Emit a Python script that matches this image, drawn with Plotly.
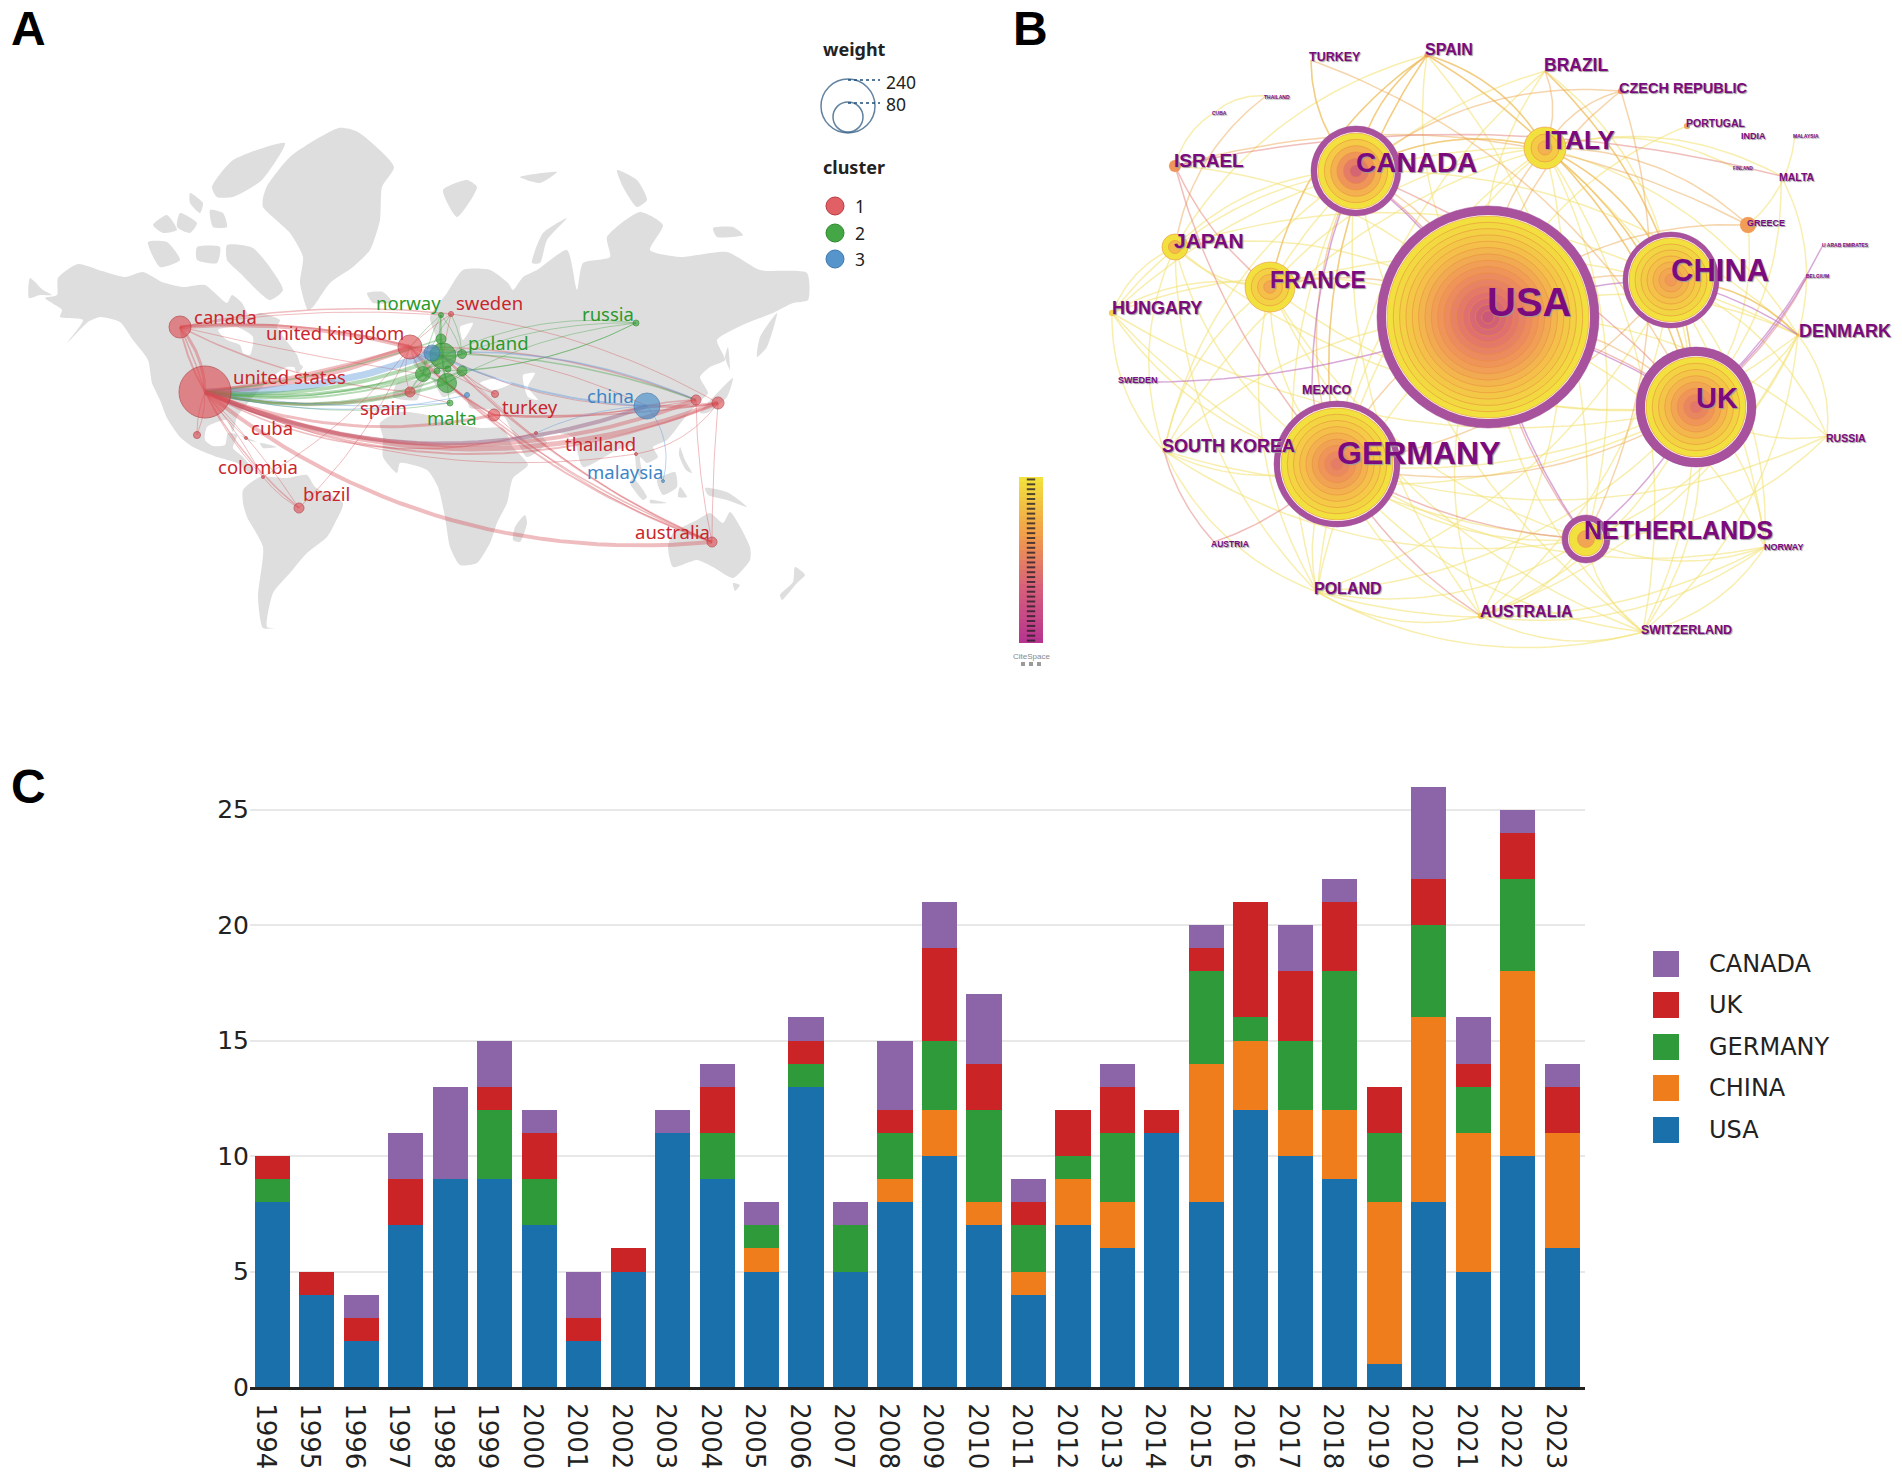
"""
Three panel figure: collaboration map (A), country network (B) and
yearly stacked publications of the top five countries (C).
"""

import numpy as np
import plotly.graph_objects as go

W = 1902
H = 1478

# ---------------- Panel C data ----------------
YEARS = [str(y) for y in range(1994, 2024)]
USA = [8, 4, 2, 7, 9, 9, 7, 2, 5, 11, 9, 5, 13, 5, 8, 10, 7, 4, 7, 6, 11, 8, 12, 10, 9, 1, 8, 5, 10, 6]
CHINA = [0, 0, 0, 0, 0, 0, 0, 0, 0, 0, 0, 1, 0, 0, 1, 2, 1, 1, 2, 2, 0, 6, 3, 2, 3, 7, 8, 6, 8, 5]
GERMANY = [1, 0, 0, 0, 0, 3, 2, 0, 0, 0, 2, 1, 1, 2, 2, 3, 4, 2, 1, 3, 0, 4, 1, 3, 6, 3, 4, 2, 4, 0]
UK = [1, 1, 1, 2, 0, 1, 2, 1, 1, 0, 2, 0, 1, 0, 1, 4, 2, 1, 2, 2, 1, 1, 5, 3, 3, 2, 2, 1, 2, 2]
CANADA = [0, 0, 1, 2, 4, 2, 1, 2, 0, 1, 1, 1, 1, 1, 3, 2, 3, 1, 0, 1, 0, 1, 0, 2, 1, 0, 4, 2, 1, 1]

SERIES_NAMES = ["USA", "CHINA", "GERMANY", "UK", "CANADA"]
SERIES_VALUES = [USA, CHINA, GERMANY, UK, CANADA]
SERIES_COLORS = ["#1a70aa", "#f07d1c", "#2f9a3a", "#cb2427", "#8c64a8"]
Y_TICKS = [0, 5, 10, 15, 20, 25]

# ---------------- Panel A data (picture pixels) ----------------
LAND = [
    # north america
    [(58, 278), (78, 264), (102, 271), (125, 277), (143, 272), (162, 282), (183, 287), (205, 285),
     (217, 295), (227, 303), (232, 295), (242, 303), (250, 317), (260, 313), (280, 320), (277, 327),
     (297, 355), (300, 367), (287, 367), (272, 377), (253, 397), (237, 417), (233, 432), (227, 420),
     (207, 427), (205, 440), (213, 446), (225, 445), (228, 433), (237, 435), (233, 448), (243, 457),
     (253, 470), (250, 473), (237, 463), (217, 457), (193, 447), (180, 437), (167, 418), (160, 400),
     (152, 383), (148, 360), (133, 340), (120, 322), (100, 317), (88, 322), (67, 343), (83, 320),
     (60, 317), (62, 310), (45, 298), (57, 295)],
    [(30, 278), (43, 290), (52, 295), (40, 295), (29, 298)],
    [(293, 360), (303, 367), (297, 373)],
    [(240, 435), (257, 442), (247, 440)],
    [(260, 443), (277, 447), (263, 448)],
    [(367, 293), (383, 292), (392, 302), (373, 303)],
    # arctic islands
    [(148, 242), (167, 242), (180, 260), (160, 267)],
    [(197, 247), (220, 247), (217, 263), (197, 260)],
    [(227, 245), (253, 248), (283, 290), (270, 300), (240, 273), (227, 260)],
    [(153, 225), (167, 215), (177, 230), (163, 233)],
    [(190, 193), (203, 203), (200, 213), (190, 203)],
    [(180, 213), (197, 223), (190, 233), (177, 227)],
    [(210, 210), (223, 213), (227, 227), (213, 227)],
    [(212, 187), (233, 160), (285, 143), (262, 180), (233, 197), (217, 197)],
    # greenland
    [(267, 186), (291, 156), (339, 128), (358, 132), (394, 167), (382, 187), (380, 220), (370, 250),
     (353, 267), (330, 283), (313, 307), (308, 310), (300, 283), (303, 257), (290, 233), (263, 207),
     (263, 198)],
    # south america
    [(243, 490), (260, 477), (287, 478), (307, 475), (315, 487), (343, 503), (335, 523), (327, 537),
     (307, 553), (290, 573), (273, 593), (267, 627), (275, 628), (263, 628), (258, 597), (263, 547),
     (247, 517), (243, 503)],
    # africa
    [(380, 423), (400, 412), (427, 415), (447, 422), (480, 428), (503, 428), (513, 447), (528, 465),
     (513, 478), (507, 503), (497, 523), (490, 543), (477, 563), (460, 565), (450, 547), (445, 517),
     (438, 487), (427, 470), (400, 463), (397, 473), (383, 457), (383, 437)],
    [(525, 515), (527, 523), (520, 542), (513, 540), (515, 527)],
    # eurasia
    [(397, 383), (425, 378), (413, 363), (427, 348), (437, 343), (430, 317), (447, 293), (463, 270),
     (490, 270), (508, 283), (513, 290), (523, 277), (537, 270), (567, 250), (577, 290), (583, 263),
     (610, 257), (607, 237), (640, 212), (663, 225), (650, 250), (680, 257), (727, 252), (760, 270),
     (807, 273), (808, 300), (793, 303), (773, 313), (747, 323), (717, 340), (725, 360), (710, 367),
     (700, 377), (708, 393), (698, 403), (683, 420), (667, 440), (653, 447), (658, 457), (647, 463),
     (640, 457), (643, 480), (637, 473), (633, 447), (617, 450), (583, 467), (573, 437), (557, 433),
     (543, 437), (547, 443), (527, 457), (513, 433), (503, 415), (493, 410), (470, 408), (467, 400),
     (455, 393), (443, 397), (430, 377), (422, 387), (417, 400), (393, 397)],
    [(443, 190), (467, 180), (477, 187), (457, 217)],
    [(532, 263), (543, 233), (567, 218), (547, 240), (540, 263)],
    [(617, 170), (637, 180), (647, 200), (637, 207), (623, 187)],
    [(520, 177), (557, 172), (540, 183)],
    [(713, 228), (733, 227), (743, 235), (717, 237)],
    [(757, 357), (760, 337), (777, 313), (767, 347)],
    [(727, 383), (733, 378), (727, 397), (707, 413), (700, 413)],
    [(728, 347), (730, 370), (725, 357)],
    # south east asia and oceania
    [(633, 478), (647, 497), (643, 500), (630, 483)],
    [(650, 500), (667, 503), (650, 503)],
    [(657, 480), (675, 472), (677, 487), (663, 495)],
    [(680, 447), (685, 460), (692, 473), (686, 470), (679, 455)],
    [(680, 487), (687, 497), (678, 497)],
    [(705, 488), (727, 492), (747, 507), (727, 500), (708, 495)],
    [(668, 547), (673, 533), (697, 520), (710, 513), (723, 523), (730, 512), (750, 547), (750, 560),
     (733, 578), (713, 567), (697, 560), (673, 567)],
    [(733, 583), (740, 585), (735, 591)],
    [(795, 567), (805, 575), (797, 583), (782, 600), (780, 595), (793, 582)],
]
WATER = [
    [(218, 330), (237, 327), (253, 337), (250, 355), (243, 353), (240, 345), (227, 340)],
    [(480, 383), (497, 378), (512, 383), (493, 390)],
    [(523, 375), (535, 373), (528, 387), (538, 400), (528, 397)],
    [(460, 327), (473, 323), (463, 340)],
]

A_NODES = {
    "us": (205, 392, 26, 1), "ca": (180, 327, 11, 1), "mx": (197, 435, 3.5, 1), "cu": (246, 438, 1.5, 1),
    "co": (263, 477, 1.5, 1), "br": (299, 508, 5, 1), "es": (410, 392, 5, 1), "gb": (410, 347, 12, 1),
    "de": (443, 356, 13, 2), "nl": (432, 353, 8, 3), "dk": (441, 339, 5, 2), "pl": (462, 354, 4.5, 2),
    "fr": (423, 374, 7.5, 2), "it": (447, 383, 9.5, 2), "at": (462, 371, 5, 2), "be": (437, 371, 3, 2),
    "ch": (448, 369, 3, 2), "no": (441, 315, 2.5, 2), "se": (451, 314, 2.5, 1), "ru": (636, 323, 3, 2),
    "gr": (467, 395, 2.5, 3), "il": (495, 394, 3.5, 1), "mt": (450, 403, 3, 2), "tr": (494, 415, 6, 1),
    "ir": (536, 433, 1.5, 1), "cn": (647, 406, 13, 3), "kr": (696, 400, 5, 1), "jp": (718, 403, 6, 1),
    "th": (636, 454, 1.5, 1), "my": (663, 481, 1.5, 3), "au": (712, 542, 5, 1),
}

RED_A = "rgba(214,80,88,0.38)"
GRN_A = "rgba(60,160,60,0.38)"
BLU_A = "rgba(90,150,215,0.42)"

# from, to, bend, width, colour
A_EDGES = [
    ("us", "ca", 0.18, 3, RED_A), ("us", "ca", -0.08, 2, RED_A), ("us", "ca", 0.04, 1.5, RED_A),
    ("us", "mx", 0.1, 1, RED_A), ("us", "mx", -0.1, 1, RED_A), ("us", "cu", 0.05, 1, RED_A),
    ("us", "co", 0.08, 1, RED_A), ("us", "co", -0.05, 1, RED_A), ("us", "br", 0.1, 1.5, RED_A),
    ("us", "br", -0.05, 1, RED_A), ("co", "br", 0.1, 1, RED_A), ("br", "gb", 0.1, 1, RED_A),
    ("co", "gb", 0.1, 1, RED_A), ("us", "gb", 0.08, 6, RED_A), ("us", "gb", 0.04, 3, RED_A),
    ("us", "nl", 0.1, 7, BLU_A), ("us", "de", 0.12, 4, GRN_A), ("us", "fr", 0.1, 3, GRN_A),
    ("us", "it", 0.14, 3, GRN_A), ("us", "pl", 0.15, 1.5, GRN_A), ("us", "at", 0.16, 2, GRN_A),
    ("us", "be", 0.13, 2, GRN_A), ("us", "dk", 0.06, 1.5, GRN_A), ("us", "es", 0.12, 3, RED_A),
    ("us", "mt", 0.1, 1, GRN_A), ("us", "mt", 0.06, 1, BLU_A), ("us", "gr", 0.12, 1, BLU_A),
    ("us", "tr", 0.15, 3, RED_A), ("us", "ir", 0.2, 1.5, RED_A), ("us", "cn", 0.2, 4, "rgba(150,90,130,0.45)"),
    ("us", "kr", 0.2, 4, RED_A), ("us", "jp", 0.2, 5, RED_A), ("us", "jp", 0.22, 2, RED_A),
    ("us", "th", 0.15, 1, RED_A), ("th", "jp", 0.2, 1, RED_A), ("us", "au", 0.2, 4, RED_A),
    ("ca", "gb", -0.08, 4, RED_A), ("ca", "de", -0.1, 2, RED_A), ("ca", "fr", 0.02, 1, RED_A),
    ("ca", "es", 0.1, 1.5, RED_A), ("ca", "se", -0.08, 1.5, RED_A), ("ca", "no", -0.06, 1, RED_A),
    ("se", "jp", -0.1, 1, RED_A), ("gb", "kr", -0.1, 1.5, RED_A), ("nl", "kr", -0.12, 1.5, BLU_A),
    ("pl", "kr", -0.08, 1.5, GRN_A), ("gb", "cn", -0.1, 1, RED_A), ("nl", "cn", 0.1, 2, BLU_A),
    ("de", "cn", 0.12, 1, RED_A), ("pl", "ru", -0.1, 1, GRN_A), ("de", "ru", -0.15, 1, GRN_A),
    ("it", "ru", -0.1, 1, GRN_A), ("at", "ru", 0.1, 1, GRN_A), ("be", "ru", 0.12, 1, GRN_A),
    ("gb", "au", 0.12, 2, RED_A), ("de", "au", 0.1, 2, RED_A), ("it", "au", 0.08, 1.5, RED_A),
    ("at", "au", 0.1, 1, RED_A), ("tr", "au", 0.1, 1, RED_A), ("it", "tr", 0.05, 2, RED_A),
    ("kr", "au", 0.05, 1, RED_A), ("jp", "au", 0.02, 1, RED_A), ("cn", "my", -0.25, 1, BLU_A),
    ("cn", "kr", -0.05, 1.5, RED_A), ("cn", "jp", 0.05, 3, RED_A), ("tr", "cn", 0.08, 1.5, RED_A),
    ("tr", "jp", 0.05, 1.5, RED_A), ("tr", "kr", 0.06, 1, RED_A), ("ir", "cn", -0.1, 1, BLU_A),
    ("no", "gb", 0.05, 1, GRN_A), ("no", "de", 0.03, 1, GRN_A), ("no", "dk", 0.1, 1, GRN_A),
    ("no", "pl", -0.1, 1, GRN_A), ("no", "it", 0.1, 1, GRN_A), ("no", "fr", 0.1, 1, GRN_A),
    ("se", "de", 0.03, 1, RED_A), ("se", "gb", 0.05, 1, RED_A), ("se", "pl", -0.1, 1, GRN_A),
    ("se", "fr", 0.1, 1, GRN_A), ("dk", "de", 0.1, 2, GRN_A), ("de", "pl", 0.1, 2, GRN_A),
    ("de", "fr", 0.1, 2, GRN_A), ("de", "it", 0.1, 2, GRN_A), ("fr", "es", 0.1, 1.5, GRN_A),
    ("fr", "it", 0.1, 2, GRN_A), ("es", "mt", 0.03, 1, RED_A), ("es", "de", 0.08, 1, RED_A),
    ("gb", "de", 0.1, 2, RED_A), ("gb", "it", 0.1, 1.5, RED_A), ("gb", "fr", 0.1, 1.5, RED_A),
    ("gb", "es", 0.2, 1, RED_A), ("it", "mt", 0.05, 1, GRN_A), ("it", "at", 0.1, 1, GRN_A),
    ("gb", "tr", 0.1, 1, RED_A), ("de", "il", 0.06, 1, RED_A), ("gb", "il", 0.08, 1, RED_A),
]

A_LABELS = ["canada", "united kingdom", "united states", "cuba", "colombia", "brazil", "spain", "norway",
            "sweden", "poland", "russia", "malta", "turkey", "china", "thailand", "malaysia", "australia"]
A_LABEL_X = [194, 266, 233, 251, 218, 303, 360, 376, 456, 468, 582, 427, 502, 587, 565, 587, 635]
A_LABEL_Y = [319, 335, 379, 430, 469, 496, 410, 305, 305, 345, 316, 420, 409, 398, 446, 474, 534]
A_LABEL_CLUSTER = [1, 1, 1, 1, 1, 1, 1, 2, 1, 2, 2, 2, 1, 3, 1, 3, 1]

CLUSTER_FILL = {1: "rgba(221,74,80,0.88)", 2: "rgba(52,158,52,0.92)", 3: "rgba(70,140,200,0.92)"}
CLUSTER_LINE = {1: "#b53a40", 2: "#2c8a2c", 3: "#3b78ad"}
CLUSTER_TEXT = {1: "#c9262d", 2: "#2a9a2a", 3: "#3d85c6"}

WEIGHT_X = [848, 848]
WEIGHT_Y = [106, 117]
WEIGHT_R = [27, 15]
WEIGHT_LABELS = ["240", "80"]
WEIGHT_LABEL_Y = [82, 104]
CLUSTER_IDS = [1, 2, 3]
CLUSTER_KEY_Y = [206, 233, 259]

# ---------------- Panel B data (picture pixels) ----------------
# name: x, y, outer radius, purple ring width, colour position of the core
B_NODES = {
    "USA": (1488, 317, 111, 9, 0.0), "CHINA": (1671, 280, 48, 5, 0.45), "UK": (1696, 407, 60, 9, 0.2),
    "GERMANY": (1337, 464, 63, 6, 0.25), "NETHERLANDS": (1586, 539, 24, 6, 0.2), "CANADA": (1356, 171, 45, 6, 0.0),
    "ITALY": (1545, 148, 21, 0, 0.5), "FRANCE": (1270, 287, 25, 0, 0.5), "JAPAN": (1175, 247, 13, 0, 0.45),
    "ISRAEL": (1175, 166, 6, 0, 0.5), "GREECE": (1748, 225, 8, 0, 0.55), "CZECH": (1621, 91, 3, 0, 0.4),
    "SPAIN": (1427, 55, 2.5, 0, 0.5), "PORTUGAL": (1687, 126, 3, 0, 0.65), "HUNGARY": (1112, 313, 3, 0, 0.9),
    "AUSTRALIA": (1481, 616, 3, 0, 0.9), "TURKEY": (1311, 60, 0, 0, 0), "BRAZIL": (1545, 71, 0, 0, 0),
    "THAILAND": (1266, 96, 0, 0, 0), "CUBA": (1215, 112, 0, 0, 0), "INDIA": (1743, 135, 0, 0, 0),
    "MALAYSIA": (1795, 135, 0, 0, 0), "FINLAND": (1735, 168, 0, 0, 0), "MALTA": (1781, 176, 0, 0, 0),
    "UAE": (1823, 245, 0, 0, 0), "BELGIUM": (1808, 275, 0, 0, 0), "DENMARK": (1798, 335, 1.5, 0, 0.8),
    "RUSSIA": (1827, 436, 0, 0, 0), "NORWAY": (1765, 547, 1.5, 0, 0.8), "SWITZERLAND": (1643, 632, 1.5, 0, 0.8),
    "POLAND": (1317, 592, 1.5, 0, 0.8), "AUSTRIA": (1214, 542, 0, 0, 0), "SKOREA": (1164, 451, 1.5, 0, 0.8),
    "MEXICO": (1312, 385, 0, 0, 0), "SWEDEN": (1120, 382, 0, 0, 0),
}

B_LABELS = ["USA", "CHINA", "UK", "GERMANY", "NETHERLANDS", "CANADA", "ITALY", "FRANCE", "JAPAN", "ISRAEL",
            "HUNGARY", "SOUTH KOREA", "POLAND", "AUSTRALIA", "SWITZERLAND", "NORWAY", "RUSSIA", "DENMARK",
            "GREECE", "MALTA", "PORTUGAL", "INDIA", "MALAYSIA", "FINLAND", "U ARAB EMIRATES", "BELGIUM",
            "CZECH REPUBLIC", "BRAZIL", "SPAIN", "TURKEY", "THAILAND", "CUBA", "SWEDEN", "MEXICO", "AUSTRIA"]
B_LABEL_X = [1487, 1671, 1696, 1337, 1584, 1356, 1544, 1270, 1174, 1174, 1112, 1162, 1314, 1480, 1641, 1764,
             1826, 1799, 1747, 1779, 1686, 1741, 1793, 1733, 1822, 1806, 1619, 1544, 1425, 1309, 1264, 1212,
             1118, 1302, 1211]
B_LABEL_Y = [306, 273, 401, 456, 533, 165, 142, 282, 243, 162, 309, 447, 590, 613, 631, 548, 439, 332, 224,
             178, 124, 137, 137, 169, 246, 277, 89, 67, 51, 58, 98, 114, 381, 391, 545]
B_LABEL_SIZE = [40, 31, 29, 32, 25, 28, 26, 23, 21, 19, 18, 18, 16, 16, 12.5, 9, 10.5, 18, 9, 10.5, 10.5, 9,
                5, 4.5, 5, 5, 14.5, 17.5, 16, 12.5, 5, 5, 9, 12.5, 8.5]

B_YELLOW = {
    "USA": ["HUNGARY", "SKOREA", "POLAND", "AUSTRALIA", "SWITZERLAND", "NORWAY", "RUSSIA", "DENMARK", "BRAZIL",
            "SPAIN", "PORTUGAL", "JAPAN", "ISRAEL"],
    "GERMANY": ["HUNGARY", "POLAND", "AUSTRALIA", "SWITZERLAND", "NORWAY", "DENMARK", "RUSSIA", "ITALY", "FRANCE",
                "SPAIN", "JAPAN", "BRAZIL", "SKOREA", "NETHERLANDS"],
    "UK": ["HUNGARY", "SKOREA", "POLAND", "AUSTRALIA", "SWITZERLAND", "NORWAY", "RUSSIA", "DENMARK", "ITALY",
           "FRANCE", "SPAIN", "BRAZIL", "MALTA", "GREECE", "JAPAN"],
    "CHINA": ["DENMARK", "RUSSIA", "NORWAY", "SWITZERLAND", "ITALY", "BRAZIL", "POLAND", "AUSTRALIA", "JAPAN"],
    "CANADA": ["HUNGARY", "SKOREA", "POLAND", "AUSTRALIA", "SPAIN", "TURKEY", "ITALY", "DENMARK", "SWITZERLAND",
               "JAPAN"],
    "ITALY": ["HUNGARY", "SKOREA", "DENMARK", "NORWAY", "SWITZERLAND", "POLAND", "MALTA", "FINLAND", "FRANCE",
              "SPAIN", "NETHERLANDS", "AUSTRALIA"],
    "FRANCE": ["HUNGARY", "SKOREA", "POLAND", "DENMARK", "SWITZERLAND", "SPAIN", "JAPAN", "NETHERLANDS", "BRAZIL"],
    "NETHERLANDS": ["HUNGARY", "SKOREA", "POLAND", "AUSTRALIA", "SWITZERLAND", "NORWAY", "DENMARK", "RUSSIA", "SPAIN"],
    "JAPAN": ["HUNGARY", "SKOREA", "SPAIN", "POLAND"],
    "SKOREA": ["POLAND", "HUNGARY"],
    "POLAND": ["AUSTRALIA", "SWITZERLAND", "NORWAY"],
    "AUSTRALIA": ["SWITZERLAND", "NORWAY", "DENMARK"],
    "SWITZERLAND": ["NORWAY", "DENMARK"],
    "DENMARK": ["RUSSIA", "MALTA"],
    "MALAYSIA": ["GREECE"],
    "CUBA": ["THAILAND", "ISRAEL"],
}
B_ORANGE = {
    "USA": ["CANADA", "GERMANY", "CHINA", "ITALY", "FRANCE", "UK", "CZECH", "GREECE"],
    "SPAIN": ["CANADA", "FRANCE", "ITALY", "UK", "GERMANY"],
    "CZECH": ["ITALY", "NETHERLANDS", "CANADA"],
    "ITALY": ["GREECE", "UK", "CHINA", "CANADA"],
    "TURKEY": ["CANADA", "UK"],
    "BRAZIL": ["UK", "ITALY"],
    "GERMANY": ["UK", "CANADA", "CHINA"],
    "GREECE": ["ISRAEL"],
    "THAILAND": ["JAPAN"],
    "DENMARK": ["CHINA"],
}
B_RED = {
    "ISRAEL": ["GERMANY", "FRANCE", "MALTA"],
    "CANADA": ["USA", "UK"],
    "GERMANY": ["AUSTRIA", "NETHERLANDS", "AUSTRALIA"],
    "USA": ["UK", "NETHERLANDS"],
    "BELGIUM": ["UK"],
    "MEXICO": ["GERMANY"],
    "AUSTRIA": ["SKOREA"],
}
B_PURPLE = {
    "USA": ["UK", "NETHERLANDS", "CHINA"],
    "CANADA": ["MEXICO", "USA"],
    "UK": ["UAE", "BELGIUM", "NETHERLANDS"],
    "CHINA": ["DENMARK"],
}
B_PURPLE_INNER = {"SWEDEN": ["USA"]}
# table, colour, bend (a negative bend turns the curve towards the middle)
B_EDGE_STYLES = [
    (B_YELLOW, "rgba(243,226,120,0.6)", 0.2),
    (B_ORANGE, "rgba(238,172,90,0.5)", 0.2),
    (B_RED, "rgba(226,125,120,0.5)", 0.12),
    (B_PURPLE, "rgba(190,110,190,0.6)", 0.1),
    (B_PURPLE_INNER, "rgba(190,110,190,0.6)", -0.1),
]
B_CENTER = (1490, 320)

RAMP_COLORS = ["#c2507f", "#e0706f", "#f0955a", "#f5c04a", "#f2e03f"]
BAR_COLORS = ["#f2e03c", "#f2a04a", "#d8607a", "#b8358f"]
RAMP_STEPS = 34
LOGO_TEXT = "CiteSpace"

PANEL_LETTERS = ["A", "B", "C"]
LETTER_X = [28, 1030, 28]
LETTER_Y = [28, 28, 787]

# legend of panel C, top to bottom
KEY_Y = [964, 1005, 1047, 1088, 1130]


def px(x):
    return x / W


def py(y):
    return 1 - y / H


def hex_rgb(c):
    return [int(c[i:i + 2], 16) for i in (1, 3, 5)]


def ramp(t):
    """Purple core to yellow rim of the CiteSpace rings."""
    t = min(max(t, 0), 1) * (len(RAMP_COLORS) - 1)
    i = min(int(t), len(RAMP_COLORS) - 2)
    a, b = hex_rgb(RAMP_COLORS[i]), hex_rgb(RAMP_COLORS[i + 1])
    f = t - i
    return "rgb(%d,%d,%d)" % tuple(a[k] + (b[k] - a[k]) * f for k in range(3))


def curve(x0, y0, x1, y1, bend):
    """Quadratic curve from one node to another, bend is relative to its length."""
    cx = (x0 + x1) / 2 - bend * (y1 - y0)
    cy = (y0 + y1) / 2 + bend * (x1 - x0)
    t = np.linspace(0, 1, 30)
    xs = (1 - t) ** 2 * x0 + 2 * t * (1 - t) * cx + t ** 2 * x1
    ys = (1 - t) ** 2 * y0 + 2 * t * (1 - t) * cy + t ** 2 * y1
    return xs.tolist() + [None], ys.tolist() + [None]


def outward_bend(x0, y0, x1, y1, size):
    """Sign of the bend that pushes a curve away from the middle of the network."""
    mx, my = (x0 + x1) / 2 - B_CENTER[0], (y0 + y1) / 2 - B_CENTER[1]
    return size if mx * -(y1 - y0) + my * (x1 - x0) >= 0 else -size


def polygons(trace_polys):
    xs, ys = [], []
    for poly in trace_polys:
        xs += [p[0] for p in poly] + [poly[0][0], None]
        ys += [p[1] for p in poly] + [poly[0][1], None]
    return xs, ys


def page_text(x, y, text, font, xanchor="left"):
    fig.add_annotation(x=px(x), y=py(y), xref="paper", yref="paper", xanchor=xanchor, yanchor="middle",
                       text=text, showarrow=False, font=font)


fig = go.Figure()

# ---- Panel A ----
for polys, color in [(LAND, "#dedede"), (WATER, "#ffffff")]:
    xs, ys = polygons(polys)
    fig.add_trace(go.Scatter(x=xs, y=ys, mode="lines", fill="toself", fillcolor=color,
                             line=dict(width=0, shape="spline", smoothing=0.6),
                             hoverinfo="skip", showlegend=False, xaxis="x", yaxis="y"))

groups = {}
for a, b, bend, width, color in A_EDGES:
    xs, ys = curve(A_NODES[a][0], A_NODES[a][1], A_NODES[b][0], A_NODES[b][1], bend)
    g = groups.setdefault((width, color), ([], []))
    g[0].extend(xs)
    g[1].extend(ys)
for (width, color), (xs, ys) in groups.items():
    fig.add_trace(go.Scatter(x=xs, y=ys, mode="lines", line=dict(color=color, width=width),
                             hoverinfo="skip", showlegend=False, xaxis="x", yaxis="y"))

a_vals = list(A_NODES.values())
fig.add_trace(go.Scatter(
    x=[n[0] for n in a_vals], y=[n[1] for n in a_vals], mode="markers", text=list(A_NODES.keys()),
    marker=dict(size=[2 * n[2] for n in a_vals], color=[CLUSTER_FILL[n[3]] for n in a_vals],
                line=dict(color=[CLUSTER_LINE[n[3]] for n in a_vals], width=1)),
    showlegend=False, xaxis="x", yaxis="y"))
fig.add_trace(go.Scatter(
    x=A_LABEL_X, y=A_LABEL_Y, mode="text", text=A_LABELS, textposition="middle right",
    textfont=dict(family="Noto Sans", size=18.5, color=[CLUSTER_TEXT[c] for c in A_LABEL_CLUSTER]),
    hoverinfo="skip", showlegend=False, xaxis="x", yaxis="y"))

# weight and cluster keys
fig.add_trace(go.Scatter(
    x=WEIGHT_X, y=WEIGHT_Y, mode="markers", hoverinfo="skip", showlegend=False, xaxis="x", yaxis="y",
    marker=dict(size=[2 * r for r in WEIGHT_R], color="rgba(0,0,0,0)", line=dict(color="#1f4e79", width=1.5))))
for y, y_text, label in zip([80, 103], WEIGHT_LABEL_Y, WEIGHT_LABELS):
    fig.add_trace(go.Scatter(x=[848, 880], y=[y, y], mode="lines", hoverinfo="skip", showlegend=False,
                             line=dict(color="#1f4e79", width=1.5, dash="dot"), xaxis="x", yaxis="y"))
    page_text(884, y_text, label, dict(family="Noto Sans", size=17.5, color="#222222"))
for label, y_text in [("weight", 49), ("cluster", 167)]:
    page_text(821, y_text, label, dict(family="Noto Sans", size=18, color="#222222", weight="bold"))
fig.add_trace(go.Scatter(
    x=[835] * 3, y=CLUSTER_KEY_Y, mode="markers", hoverinfo="skip", showlegend=False, xaxis="x", yaxis="y",
    marker=dict(size=18, color=[CLUSTER_FILL[c] for c in CLUSTER_IDS],
                line=dict(color=[CLUSTER_LINE[c] for c in CLUSTER_IDS], width=1))))
for c, y in zip(CLUSTER_IDS, CLUSTER_KEY_Y):
    page_text(853, y, str(c), dict(family="Noto Sans", size=17.5, color="#222222"))

# ---- Panel B ----
for table, color, bend in B_EDGE_STYLES:
    xs, ys = [], []
    for a, targets in table.items():
        for b in targets:
            x0, y0 = B_NODES[a][:2]
            x1, y1 = B_NODES[b][:2]
            sign = outward_bend(x0, y0, x1, y1, abs(bend))
            ex, ey = curve(x0, y0, x1, y1, sign if bend > 0 else -sign)
            xs += ex
            ys += ey
    fig.add_trace(go.Scatter(x=xs, y=ys, mode="lines", line=dict(color=color, width=1.5),
                             hoverinfo="skip", showlegend=False, xaxis="x2", yaxis="y2"))

ring_x, ring_y, ring_size, ring_fill, ring_line, ring_width = [], [], [], [], [], []
for name, (x, y, r, purple, core) in B_NODES.items():
    if r == 0:
        continue
    if purple:
        ring_x += [x, x]
        ring_y += [y, y]
        ring_size += [2 * r, 2 * (r - purple)]
        ring_fill += ["#a8519d", "#ffffff"]
        ring_line += ["#9c4794", "#ffffff"]
        ring_width += [0.5, 0]
    inner = r - purple - (1 if purple else 0)
    n = max(1, int(inner / 6))
    for i in range(n):
        frac = (n - i) / n
        ring_x.append(x)
        ring_y.append(y)
        ring_size.append(2 * inner * frac)
        ring_fill.append(ramp(core + (1 - core) * frac) if n > 1 else ramp(core))
        ring_line.append("rgba(232,140,60,0.55)" if n > 1 else "rgba(232,140,60,0.3)")
        ring_width.append(1 if n > 1 else 0.5)
fig.add_trace(go.Scatter(
    x=ring_x, y=ring_y, mode="markers", hoverinfo="skip", showlegend=False, xaxis="x2", yaxis="y2",
    marker=dict(size=ring_size, color=ring_fill, opacity=1, line=dict(color=ring_line, width=ring_width))))

# time slice bar of CiteSpace
fig.add_trace(go.Heatmap(
    z=[[i] for i in range(RAMP_STEPS)], x0=1031, dx=24, y0=477 + 166 / RAMP_STEPS / 2, dy=166 / RAMP_STEPS,
    colorscale=[[i / 3, c] for i, c in enumerate(BAR_COLORS)], showscale=False, hoverinfo="skip",
    xaxis="x2", yaxis="y2"))
fig.add_trace(go.Scatter(
    x=[1031] * RAMP_STEPS, y=[477 + 166 * (i + 0.5) / RAMP_STEPS for i in range(RAMP_STEPS)], mode="markers",
    marker=dict(symbol="line-ew", size=6, line=dict(color="rgba(40,30,40,0.8)", width=2)),
    hoverinfo="skip", showlegend=False, xaxis="x2", yaxis="y2"))
page_text(1031, 656, LOGO_TEXT, dict(family="Liberation Sans", size=8, color="#888888"), xanchor="center")
fig.add_trace(go.Scatter(
    x=[1021, 1041], y=[664, 664], mode="lines", line=dict(color="#9a9a9a", width=4, dash="dot"),
    hoverinfo="skip", showlegend=False, xaxis="x2", yaxis="y2"))

fig.add_trace(go.Scatter(
    x=B_LABEL_X, y=B_LABEL_Y, mode="text", text=B_LABELS, textposition="middle right",
    textfont=dict(family="Liberation Sans", size=B_LABEL_SIZE, color="#7b0a7e", weight="bold",
                  shadow="1px 1px 1px #9a9a9a"),
    hoverinfo="skip", showlegend=False, xaxis="x2", yaxis="y2"))

# ---- Panel C ----
for name, values, color in zip(SERIES_NAMES, SERIES_VALUES, SERIES_COLORS):
    fig.add_trace(go.Bar(x=YEARS, y=values, name=name, marker_color=color, marker_line_width=0,
                         showlegend=False, xaxis="x3", yaxis="y3"))

for i, (name, y) in enumerate(zip(SERIES_NAMES[::-1], KEY_Y)):
    fig.add_shape(type="rect", xref="paper", yref="paper", x0=px(1653), x1=px(1679), y0=py(y - 13), y1=py(y + 13),
                  fillcolor=SERIES_COLORS[::-1][i], line_width=0)
    page_text(1707, y, name, dict(family="DejaVu Sans", size=24, color="#222222"))

for letter, x, y in zip(PANEL_LETTERS, LETTER_X, LETTER_Y):
    page_text(x, y, letter, dict(family="Liberation Sans", size=48, color="#000000", weight="bold"), xanchor="center")

hidden = dict(visible=False, showgrid=False, zeroline=False, fixedrange=True, automargin=False)
fig.update_layout(
    width=W,
    height=H,
    autosize=False,
    margin=dict(l=0, r=0, t=0, b=0),
    plot_bgcolor="#ffffff",
    paper_bgcolor="#ffffff",
    showlegend=False,
    barmode="stack",
    bargap=0.21,
    xaxis=dict(domain=[0, 950 / W], range=[0, 950], **hidden),
    yaxis=dict(domain=[1 - 680 / H, 1], range=[680, 0], **hidden),
    xaxis2=dict(domain=[980 / W, 1], range=[980, 1902], **hidden),
    yaxis2=dict(domain=[1 - 680 / H, 1], range=[680, 0], **hidden),
    xaxis3=dict(
        domain=[250 / W, 1584.5 / W],
        anchor="y3",
        type="category",
        range=[-0.5, 29.5],
        tickangle=90,
        tickmode="array",
        tickvals=YEARS,
        ticktext=YEARS,
        tickfont=dict(family="DejaVu Sans", size=26, color="#222222"),
        ticklabelstandoff=8,
        ticklabelshift=-7,
        showline=True,
        linecolor="#222222",
        linewidth=3,
        showgrid=False,
        ticks="",
        automargin=False,
    ),
    yaxis3=dict(
        domain=[(H - 1387) / H, (H - 786.5) / H],
        anchor="x3",
        range=[0, 26],
        tickmode="array",
        tickvals=Y_TICKS,
        tickfont=dict(family="DejaVu Sans", size=25, color="#222222"),
        gridcolor="#e8e8e8",
        gridwidth=2,
        zeroline=False,
        ticks="",
        automargin=False,
    ),
)

fig.write_html("out.html", config={"displayModeBar": False},
               post_script="document.body.style.margin='0';")
